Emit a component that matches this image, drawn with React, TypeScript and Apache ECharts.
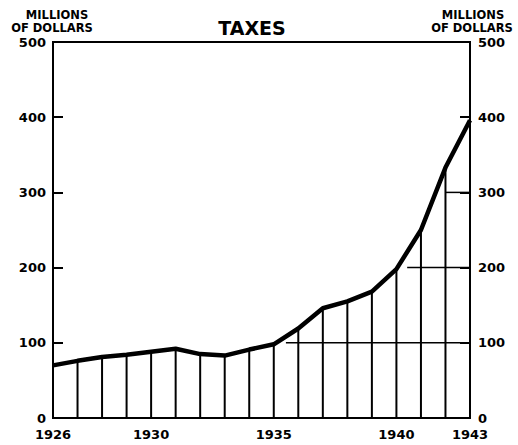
import React, { useEffect, useRef } from "react";
import * as echarts from "echarts";

const years = [1926, 1927, 1928, 1929, 1930, 1931, 1932, 1933, 1934, 1935, 1936, 1937, 1938, 1939, 1940, 1941, 1942, 1943];
const taxes = [70, 76, 81, 84, 88, 92, 85, 83, 91, 98, 119, 146, 155, 168, 198, 250, 333, 396];
const yearLabels = [1926, 1930, 1935, 1940, 1943];
const gridLevels = [100, 200, 300];

const FONT = "DejaVu Sans";

function crossing(level: number): number | null {
  for (let i = 1; i < years.length; i++) {
    if (taxes[i - 1] < level && taxes[i] >= level) {
      const t = (level - taxes[i - 1]) / (taxes[i] - taxes[i - 1]);
      return years[i - 1] + t * (years[i] - years[i - 1]);
    }
  }
  return null;
}

export default function App() {
  const ref = useRef<HTMLDivElement>(null);
  useEffect(() => {
    if (!ref.current) return;
    const chart = echarts.init(ref.current, null, { renderer: "svg" });
    const lineData = years.map((y, i) => [y, taxes[i]]);
    const gridData: number[][] = [];
    gridLevels.forEach((lv) => {
      const c = crossing(lv);
      if (c !== null) gridData.push([Math.min(c + 0.4, years[years.length - 1]), lv]);
    });
    const xMax = years[years.length - 1];
    const axisLabelStyle = { color: "#000", fontFamily: FONT, fontWeight: "bold" as const, fontSize: 13 };
    const unitFont = `bold 11.5px ${FONT}`;
    chart.setOption({
      animation: false,
      backgroundColor: "#fff",
      grid: { left: 53, top: 42, width: 417, height: 376, show: true, borderColor: "#000", borderWidth: 2, backgroundColor: "transparent" },
      xAxis: {
        type: "value",
        min: years[0],
        max: xMax,
        axisLine: { show: true, lineStyle: { color: "#000", width: 2 } },
        axisTick: { show: false },
        splitLine: { show: false },
        axisLabel: { ...axisLabelStyle, margin: 10, customValues: yearLabels, formatter: (v: number) => String(v) },
      },
      yAxis: [
        {
          type: "value",
          min: 0,
          max: 500,
          interval: 100,
          position: "left",
          axisLine: { show: true, lineStyle: { color: "#000", width: 2 } },
          axisTick: { show: true, inside: true, length: 10, lineStyle: { color: "#000", width: 2 } },
          splitLine: { show: false },
          axisLabel: { ...axisLabelStyle, margin: 7 },
        },
        {
          type: "value",
          min: 0,
          max: 500,
          interval: 100,
          position: "right",
          axisLine: { show: true, lineStyle: { color: "#000", width: 2 } },
          axisTick: { show: true, inside: true, length: 10, lineStyle: { color: "#000", width: 2 } },
          splitLine: { show: false },
          axisLabel: { ...axisLabelStyle, margin: 8 },
        },
      ],
      graphic: [
        { type: "text", x: 252, y: 28, style: { text: "TAXES", font: `bold 19px ${FONT}`, fill: "#000", align: "center", verticalAlign: "middle" } },
        { type: "text", x: 57, y: 14.5, style: { text: "MILLIONS", font: unitFont, fill: "#000", align: "center", verticalAlign: "middle" } },
        { type: "text", x: 52, y: 27.5, style: { text: "OF DOLLARS", font: unitFont, fill: "#000", align: "center", verticalAlign: "middle" } },
        { type: "text", x: 473, y: 14.5, style: { text: "MILLIONS", font: unitFont, fill: "#000", align: "center", verticalAlign: "middle" } },
        { type: "text", x: 472, y: 27.5, style: { text: "OF DOLLARS", font: unitFont, fill: "#000", align: "center", verticalAlign: "middle" } },
      ],
      series: [
        {
          type: "custom",
          name: "drops",
          data: lineData,
          renderItem: (params: any, api: any) => {
            const p0 = api.coord([api.value(0), 0]);
            const p1 = api.coord([api.value(0), api.value(1)]);
            return { type: "line", shape: { x1: p0[0], y1: p0[1], x2: p1[0], y2: p1[1] }, style: { stroke: "#000", lineWidth: 2 } };
          },
          z: 2,
        },
        {
          type: "custom",
          name: "grid",
          data: gridData,
          renderItem: (params: any, api: any) => {
            const p0 = api.coord([api.value(0), api.value(1)]);
            const p1 = api.coord([xMax, api.value(1)]);
            return { type: "line", shape: { x1: p0[0], y1: p0[1], x2: p1[0], y2: p1[1] }, style: { stroke: "#000", lineWidth: 1.5 } };
          },
          z: 2,
        },
        {
          type: "line",
          name: "Taxes",
          data: lineData,
          symbol: "none",
          lineStyle: { color: "#000", width: 4.5 },
          z: 3,
        },
      ],
    });
    return () => chart.dispose();
  }, []);
  return <div ref={ref} style={{ position: "fixed", left: 0, top: 0, width: 518, height: 445 }} />;
}
